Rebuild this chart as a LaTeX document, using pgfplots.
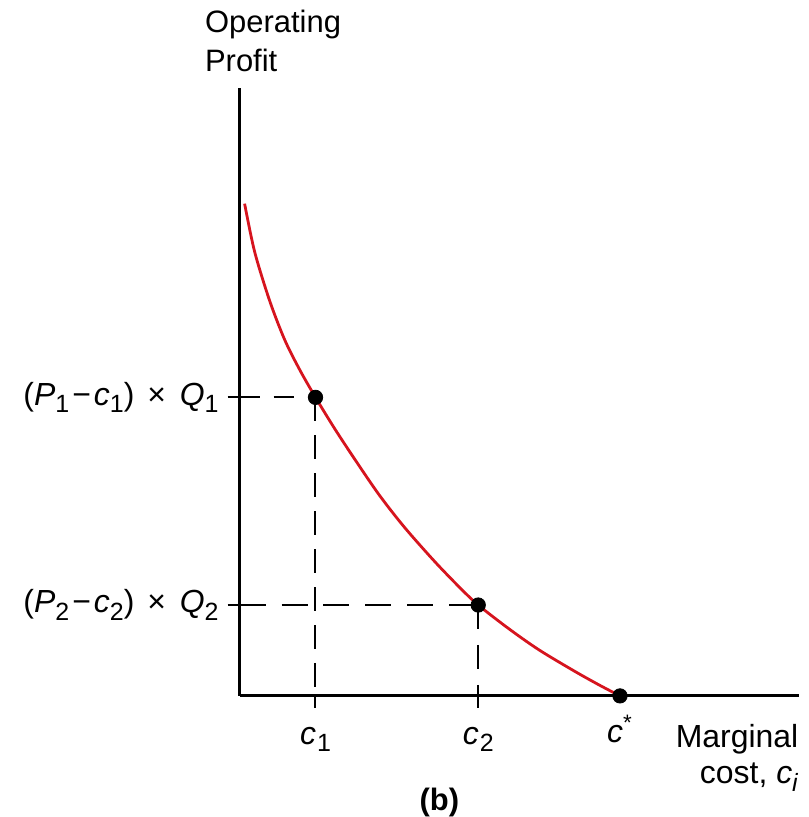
\documentclass[border=0pt]{standalone}
\usepackage{pgfplots}
\pgfplotsset{compat=1.18}
\usepackage{fontspec}
\setmainfont{Liberation Sans}
\definecolor{curvered}{RGB}{214,20,30}
\newcommand{\lbl}{\fontsize{15.5pt}{19.5pt}\selectfont}
\newcommand{\tlbl}{\fontsize{16pt}{19.5pt}\selectfont}
\newcommand{\sub}[1]{\raisebox{-0.45ex}{\fontsize{12.5pt}{12.5pt}\selectfont #1}}
\newcommand{\mn}{\hspace{1.5pt}−\hspace{1.5pt}}
\newcommand{\tm}{ \hspace{2pt}×\hspace{2.5pt} }
\begin{document}
\begin{tikzpicture}
\begin{axis}[
  scale only axis,
  width=280pt, height=304.5pt,
  xmin=0, xmax=560, ymin=0, ymax=609,
  axis lines=left,
  axis line style={-, line width=1.5pt},
  clip=false,
  tick align=outside,
  major tick length=6pt,
  tick style={black, line width=1pt},
  xtick={76,239}, xticklabels={\textit{c}\hspace{0.5pt}\sub{1}, \textit{c}\hspace{0.5pt}\sub{2}},
  extra x ticks={381}, extra x tick labels={\textit{c}\textsuperscript{*}},
  extra x tick style={major tick length=0pt, tick style={draw=none}},
  ytick={91,299},
  yticklabels={(\textit{P}\sub{2}\mn\textit{c}\sub{2})\tm\textit{Q}\sub{2},
               (\textit{P}\sub{1}\mn\textit{c}\sub{1})\tm\textit{Q}\sub{1}},
  tick label style={font=\tlbl},
  xticklabel style={yshift=-6pt},
  yticklabel style={xshift=-1pt},
]
\path (axis cs:-240,697) rectangle (axis cs:570,-120);
% dashed guides
\addplot[black, line width=1pt, dash pattern=on 10pt off 7pt] coordinates {(0,299) (76,299)};
\addplot[black, line width=1pt, dash pattern=on 12pt off 7pt] coordinates {(76,299) (76,0)};
\addplot[black, line width=1pt, dash pattern=on 13pt off 8pt] coordinates {(0,91) (239,91)};
\addplot[black, line width=1pt, dash pattern=on 12pt off 8pt] coordinates {(239,91) (239,0)};
% curve
\addplot[curvered, line width=1.4pt, smooth] coordinates {
  (5,493) (15,445) (30,396) (45,357) (60,327) (76,299) (95,268) (115,237.5)
  (140,201) (165,169) (195,135) (220,109) (239,91) (270,67) (300,46)
  (335,25) (360,11) (381,0)};
% points
\addplot[only marks, mark=*, mark size=3.6pt, black] coordinates {(76,299) (239,91) (381,0)};
% labels
\node[anchor=south west, align=left, font=\lbl, inner sep=0pt] at (axis cs:-35,625) {Operating\\Profit};
\node[anchor=north east, align=right, font=\fontsize{16pt}{18.3pt}\selectfont, inner sep=0pt] at (axis cs:560,-28) {Marginal\\cost, \textit{c}\sub{\textit{i}}};
\node[anchor=north, font=\lbl\bfseries, inner sep=0pt] at (axis cs:200,-92) {(b)};
\end{axis}
\end{tikzpicture}
\end{document}
